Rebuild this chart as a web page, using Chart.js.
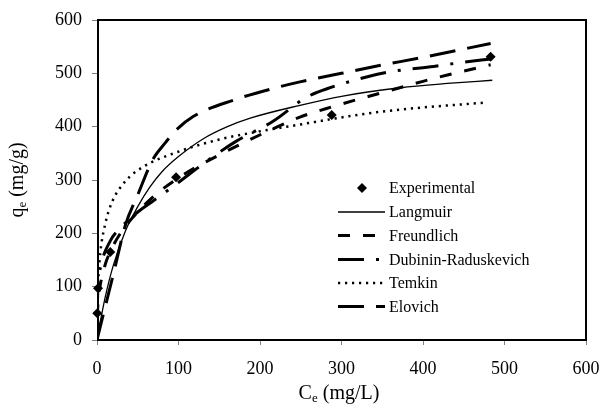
<!DOCTYPE html>
<html><head><meta charset="utf-8">
<script src="https://cdn.jsdelivr.net/npm/chart.js@4.4.1/dist/chart.umd.min.js"></script>
<style>html,body{margin:0;padding:0;background:#fff;}</style>
</head><body>
<canvas id="c" width="600" height="405"></canvas>
<script>
// ---- data ----
const axisTicks = [0, 100, 200, 300, 400, 500, 600];

const expC = [0.3, 1.2, 16.3, 97, 288, 483];
const expQ = [50, 97, 165, 305, 422, 531];

const langC = [0, 2, 5, 10, 20, 35, 50, 65, 80, 100, 130, 160, 188, 249, 300, 372, 430, 485];
const langQ = [0, 20, 42, 80, 140, 205, 250, 287, 316, 344, 377, 400, 416, 440, 457, 473, 481, 487];

const freuC = [0.3, 1.2, 4, 10, 16, 30, 50, 70, 97, 118, 150, 184, 216, 249, 288, 348, 400, 430, 483];
const freuQ = [44, 69, 103, 141, 165, 203, 240, 270, 301, 321, 347, 373, 396, 418, 437, 463, 485, 497, 516];

const drC = [0.3, 1.2, 5, 16, 30, 50, 70, 97, 130, 170, 216, 257, 288, 333, 364, 413, 441, 483];
const drQ = [60, 100, 140, 185, 212, 240, 262, 292, 330, 372, 410, 455, 474, 494, 504, 513, 519, 527];

const temC = [1.2, 2, 4, 10, 18, 35, 57, 96, 150, 188, 249, 311, 348, 400, 476];
const temQ = [93, 123, 163, 217, 257, 298, 325, 351, 376, 388, 404, 420, 428, 436, 445];

const eloC = [0, 5, 12, 20, 35, 50, 68, 84, 96, 118, 168, 217, 249, 300, 348, 400, 483];
const eloQ = [0, 31, 74, 123, 216, 272, 337, 370, 392, 419, 450, 472, 484, 500, 515, 530, 556];

const seriesNames = ['Experimental', 'Langmuir', 'Freundlich', 'Dubinin-Raduskevich', 'Temkin', 'Elovich'];

// ---- build ----
const pts = (xs, ys) => xs.map((x, i) => ({x: x, y: ys[i]}));
const FONT = "'Liberation Serif', 'Times New Roman', serif";

function lineDs(label, xs, ys, width, dash) {
  return {
    label: label, data: pts(xs, ys), showLine: true, pointRadius: 0,
    borderColor: '#000', backgroundColor: '#000', borderWidth: width,
    borderDash: dash, cubicInterpolationMode: 'monotone', fill: false
  };
}

const datasets = [
  {label: seriesNames[0], data: pts(expC, expQ), showLine: false, pointStyle: 'rectRot',
   pointRadius: 5, pointBackgroundColor: '#000', pointBorderColor: '#000', pointBorderWidth: 0, clip: false},
  lineDs(seriesNames[1], langC, langQ, 1.3, []),
  lineDs(seriesNames[2], freuC, freuQ, 3, [12, 13]),
  lineDs(seriesNames[3], drC, drQ, 3, [26, 12, 3, 12]),
  lineDs(seriesNames[4], temC, temQ, 2.5, [2.2, 4.8]),
  lineDs(seriesNames[5], eloC, eloQ, 3, [26, 12])
];

const decor = {
  id: 'decor',
  afterDraw(chart) {
    const ctx = chart.ctx, a = chart.chartArea;
    ctx.save();
    // plot border
    ctx.strokeStyle = '#000'; ctx.lineWidth = 2; ctx.setLineDash([]);
    ctx.strokeRect(a.left + 1, a.top, a.right - a.left - 1, a.bottom - a.top);

    // legend
    const ds = chart.data.datasets;
    const rows = [188, 212, 235.5, 259.5, 283, 306.5];
    const lx0 = 338, lx1 = 385, tx = 389;
    ctx.font = '16px ' + FONT; ctx.fillStyle = '#000'; ctx.textBaseline = 'middle'; ctx.textAlign = 'left';
    ds.forEach((d, i) => {
      const y = rows[i];
      if (i === 0) {
        ctx.beginPath();
        ctx.moveTo(362, y - 5); ctx.lineTo(367, y); ctx.lineTo(362, y + 5); ctx.lineTo(357, y);
        ctx.closePath(); ctx.fill();
      } else {
        ctx.beginPath(); ctx.setLineDash(d.borderDash); ctx.lineWidth = d.borderWidth;
        ctx.lineCap = 'butt';
        ctx.moveTo(lx0, y); ctx.lineTo(lx1, y); ctx.stroke(); ctx.setLineDash([]);
      }
      ctx.fillText(d.label, tx, y + 1);
    });

    // axis titles with subscripts
    function title(main, sub, rest, cx, cy, rot) {
      ctx.save();
      ctx.translate(cx, cy); ctx.rotate(rot);
      const big = '20px ' + FONT, small = '13px ' + FONT;
      ctx.font = big; const w1 = ctx.measureText(main).width, w3 = ctx.measureText(rest).width;
      ctx.font = small; const w2 = ctx.measureText(sub).width;
      let x = -(w1 + w2 + w3) / 2;
      ctx.textBaseline = 'alphabetic'; ctx.textAlign = 'left';
      ctx.font = big; ctx.fillText(main, x, 7); x += w1;
      ctx.font = small; ctx.fillText(sub, x, 10); x += w2;
      ctx.font = big; ctx.fillText(rest, x, 7);
      ctx.restore();
    }
    title('C', 'e', ' (mg/L)', 339, 392, 0);
    title('q', 'e', ' (mg/g)', 16, 180, -Math.PI / 2);
    ctx.restore();
  }
};

function axis(w, isX) {
  return {
    type: 'linear', min: axisTicks[0], max: axisTicks[axisTicks.length - 1],
    afterBuildTicks(s) { s.ticks = axisTicks.map(v => ({value: v})); },
    ticks: {color: '#000', font: {family: FONT, size: 18}, padding: isX ? 13 : 10, maxRotation: 0, autoSkip: false},
    grid: {display: true, drawOnChartArea: false, drawTicks: true, tickLength: 5, color: '#808080', lineWidth: 1},
    border: {display: true, color: '#808080', width: 1},
    title: {display: false},
    afterFit(s) {
      if (isX) { s.height = w; s.paddingLeft = 0; s.paddingRight = 0; }
      else { s.width = w; s.paddingTop = 0; s.paddingBottom = 0; }
    }
  };
}

new Chart(document.getElementById('c'), {
  type: 'scatter',
  data: {datasets: datasets},
  options: {
    responsive: false, animation: false, devicePixelRatio: 1,
    layout: {padding: {top: 20, right: 14, left: 0, bottom: 0}},
    plugins: {legend: {display: false}, tooltip: {enabled: false}},
    scales: {x: axis(65, true), y: axis(97, false)}
  },
  plugins: [decor]
});
</script>
</body></html>
